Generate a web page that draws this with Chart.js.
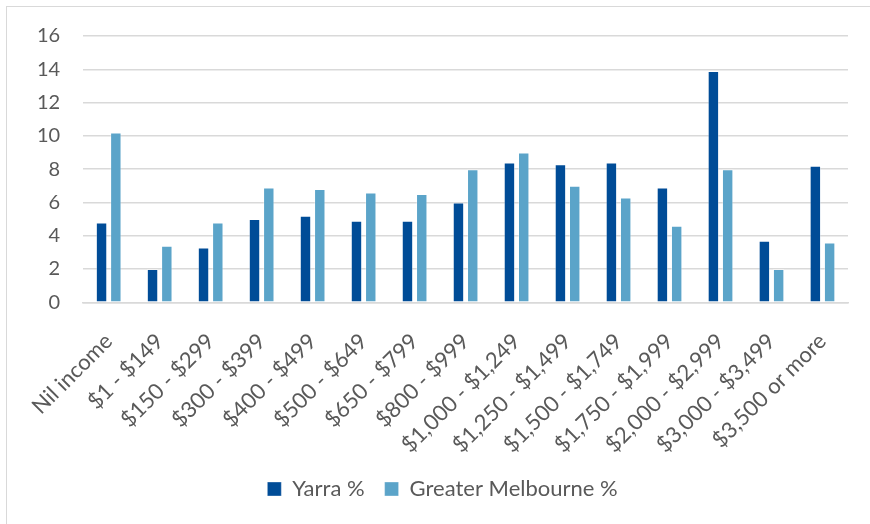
<!DOCTYPE html>
<html>
<head>
<meta charset="utf-8">
<script src="https://cdn.jsdelivr.net/npm/chart.js@4"></script>
<style>
  html, body { margin: 0; padding: 0; background: #fff; overflow: hidden; }
  .frame {
    position: absolute; left: 6px; top: 6px;
    width: 900px; height: 560px;
    border: 1px solid #d9d9d9;
  }
  .box { position: absolute; left: 0; top: 0; width: 863px; height: 517px; }
</style>
</head>
<body>
<div class="frame">
  <div class="box"><canvas id="incomeChart"></canvas></div>
</div>
<script>
  /* ── Weekly household income: Yarra vs Greater Melbourne ── */
  const categories = [
    'Nil income', '$1 - $149', '$150 - $299', '$300 - $399', '$400 - $499',
    '$500 - $649', '$650 - $799', '$800 - $999', '$1,000 - $1,249',
    '$1,250 - $1,499', '$1,500 - $1,749', '$1,750 - $1,999',
    '$2,000 - $2,999', '$3,000 - $3,499', '$3,500 or more'
  ];
  const yarraPct = [4.8, 2.0, 3.3, 5.0, 5.2, 4.9, 4.9, 6.0, 8.4, 8.3, 8.4, 6.9, 13.9, 3.7, 8.2];
  const melbPct  = [10.2, 3.4, 4.8, 6.9, 6.8, 6.6, 6.5, 8.0, 9.0, 7.0, 6.3, 4.6, 8.0, 2.0, 3.6];
  const yTicks   = [0, 2, 4, 6, 8, 10, 12, 14, 16];

  const textColor = '#595959';
  const fontFamily = 'Lato, "Liberation Sans", sans-serif';

  const ctx = document.getElementById('incomeChart').getContext('2d');
  new Chart(ctx, {
    type: 'bar',
    data: {
      labels: categories,
      datasets: [
        {
          label: 'Yarra %',
          data: yarraPct,
          backgroundColor: '#004c97',
          borderColor: 'rgba(255,255,255,0.35)',
          borderWidth: 1,
          categoryPercentage: 0.56,
          barPercentage: 0.8
        },
        {
          label: 'Greater Melbourne %',
          data: melbPct,
          backgroundColor: '#5ba4c9',
          borderColor: 'rgba(255,255,255,0.35)',
          borderWidth: 1,
          categoryPercentage: 0.56,
          barPercentage: 0.8
        }
      ]
    },
    options: {
      responsive: true,
      maintainAspectRatio: false,
      animation: false,
      layout: { padding: { left: 30, right: 22, top: 29, bottom: 14 } },
      plugins: {
        legend: {
          position: 'bottom',
          labels: {
            font: { size: 22, family: fontFamily },
            color: textColor,
            boxWidth: 14,
            boxHeight: 14,
            padding: 20
          }
        },
        tooltip: { enabled: false }
      },
      scales: {
        y: {
          min: 0,
          max: 16,
          afterBuildTicks: axis => { axis.ticks = yTicks.map(v => ({ value: v })); },
          ticks: {
            color: textColor,
            font: { size: 20, family: fontFamily },
            padding: 0
          },
          // invisible tick marks keep the label gap without padding the top
          grid: { color: '#d9d9d9', lineWidth: 1.5, drawTicks: true, tickLength: 23, tickColor: 'rgba(0,0,0,0)' },
          border: { display: false }
        },
        x: {
          ticks: {
            color: textColor,
            font: { size: 22, family: fontFamily },
            minRotation: 45,
            maxRotation: 45,
            autoSkip: false,
            padding: 0
          },
          grid: { display: false, drawTicks: true, tickLength: 26 },
          border: { color: '#d9d9d9', width: 1.5 }
        }
      }
    }
  });
</script>
</body>
</html>
